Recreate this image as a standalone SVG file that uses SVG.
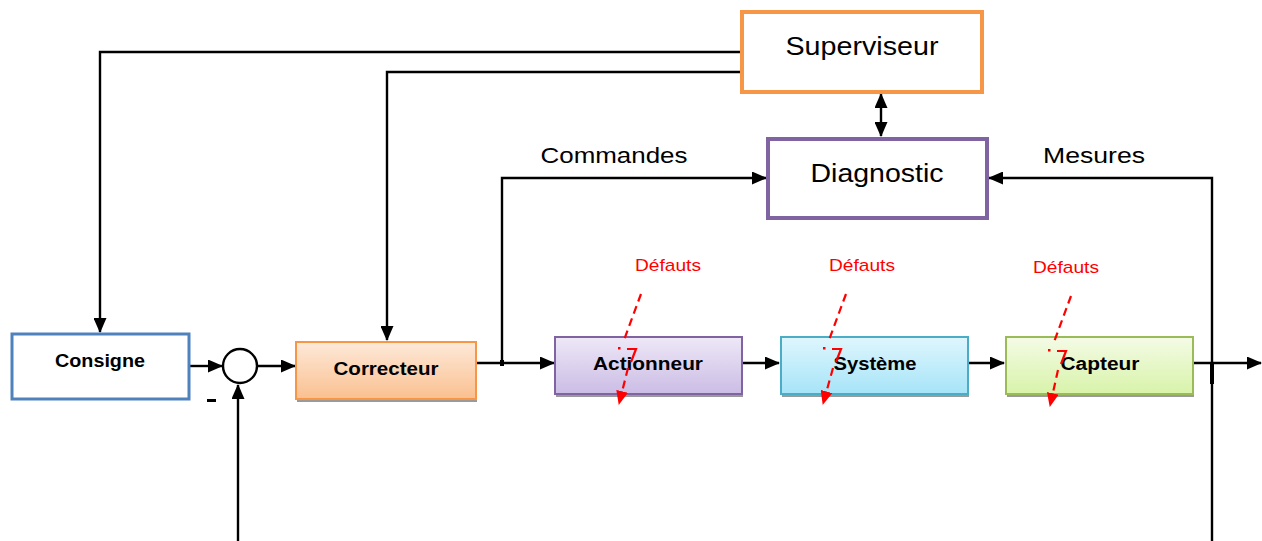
<svg xmlns="http://www.w3.org/2000/svg" width="1262" height="541" viewBox="0 0 1262 541">
  <style>
    .wire { fill: none; stroke: #000; stroke-width: 2.4; }
    .fault { fill: none; stroke: #FF0000; stroke-width: 2.2; stroke-dasharray: 8 5; }
    .seg { fill: none; stroke: #FF0000; stroke-width: 2.2; }
    .big { font-family: "Liberation Sans", Arial, sans-serif; font-size: 25px; fill: #000; }
    .lbl { font-family: "Liberation Sans", Arial, sans-serif; font-size: 22px; fill: #000; }
    .blk { font-family: "Liberation Sans", Arial, sans-serif; font-size: 18px; font-weight: bold; fill: #000; }
    .red { font-family: "Liberation Sans", Arial, sans-serif; font-size: 17px; fill: #FF0000; }
    .shadow { fill: #9a9a9a; }
  </style>
  <defs>
    <marker id="arr" viewBox="0 0 15 13" refX="14" refY="6.5" markerWidth="15" markerHeight="13" markerUnits="userSpaceOnUse" orient="auto-start-reverse">
      <path d="M0,0 L15,6.5 L0,13 Z" fill="#000"/>
    </marker>
    <marker id="arrRed" viewBox="0 0 14 12" refX="13" refY="6" markerWidth="14" markerHeight="12" markerUnits="userSpaceOnUse" orient="auto">
      <path d="M0,0 L14,6 L0,12 Z" fill="#FF0000"/>
    </marker>
    <linearGradient id="gOrange" x1="0" y1="0" x2="0" y2="1">
      <stop offset="0" stop-color="#FDE9D9"/>
      <stop offset="1" stop-color="#FAC090"/>
    </linearGradient>
    <linearGradient id="gPurple" x1="0" y1="0" x2="0" y2="1">
      <stop offset="0" stop-color="#EEE8F7"/>
      <stop offset="1" stop-color="#CBBCE5"/>
    </linearGradient>
    <linearGradient id="gBlue" x1="0" y1="0" x2="0" y2="1">
      <stop offset="0" stop-color="#DFF6FD"/>
      <stop offset="1" stop-color="#A6E4F8"/>
    </linearGradient>
    <linearGradient id="gGreen" x1="0" y1="0" x2="0" y2="1">
      <stop offset="0" stop-color="#F4FBE6"/>
      <stop offset="1" stop-color="#D8F3A9"/>
    </linearGradient>
  </defs>

  <!-- connectors -->
  <g id="connectors">
    <!-- supervisor to setpoint and controller -->
    <polyline class="wire" points="742,52 100,52 100,332" marker-end="url(#arr)"/>
    <polyline class="wire" points="742,72 387,72 387,340" marker-end="url(#arr)"/>
    <!-- supervisor <-> diagnostic -->
    <line class="wire" x1="881" y1="94" x2="881" y2="136" marker-start="url(#arr)" marker-end="url(#arr)"/>
    <!-- commands and measurements -->
    <polyline class="wire" points="502,364 502,178 766,178" marker-end="url(#arr)"/>
    <polyline class="wire" points="1212,541 1212,178 989,178" marker-end="url(#arr)"/>
    <!-- forward path -->
    <line class="wire" x1="190" y1="366" x2="222" y2="366" marker-end="url(#arr)"/>
    <line class="wire" x1="258" y1="366" x2="295" y2="366" marker-end="url(#arr)"/>
    <line class="wire" x1="477" y1="363" x2="554" y2="363" marker-end="url(#arr)"/>
    <line class="wire" x1="743" y1="363" x2="779" y2="363" marker-end="url(#arr)"/>
    <line class="wire" x1="968" y1="363" x2="1004" y2="363" marker-end="url(#arr)"/>
    <line class="wire" x1="1194" y1="363" x2="1261" y2="363" marker-end="url(#arr)"/>
    <line x1="1212" y1="363" x2="1212" y2="384" stroke="#000" stroke-width="4"/>
    <line x1="502" y1="360" x2="502" y2="366" stroke="#000" stroke-width="4"/>
    <!-- feedback -->
    <line class="wire" x1="238" y1="541" x2="238" y2="385" marker-end="url(#arr)"/>
  </g>

  <!-- supervisor -->
  <g id="superviseur">
    <rect x="742" y="12" width="240" height="80" fill="#fff" stroke="#F79646" stroke-width="4"/>
    <text class="big" x="862" y="55" text-anchor="middle" textLength="153" lengthAdjust="spacingAndGlyphs">Superviseur</text>
  </g>

  <!-- diagnosis -->
  <g id="diagnostic">
    <rect x="768" y="139" width="219" height="79" fill="#fff" stroke="#8064A2" stroke-width="4"/>
    <text class="big" x="877" y="182" text-anchor="middle" font-size="27" textLength="133" lengthAdjust="spacingAndGlyphs">Diagnostic</text>
  </g>

  <text class="lbl" x="614" y="163" text-anchor="middle" textLength="147" lengthAdjust="spacingAndGlyphs">Commandes</text>
  <text class="lbl" x="1094" y="163" text-anchor="middle" textLength="102" lengthAdjust="spacingAndGlyphs">Mesures</text>

  <!-- setpoint -->
  <g id="consigne">
    <rect x="12" y="334" width="177" height="65" fill="#fff" stroke="#4F81BD" stroke-width="3"/>
    <text class="blk" x="100" y="367" text-anchor="middle" textLength="90" lengthAdjust="spacingAndGlyphs">Consigne</text>
  </g>

  <!-- summing junction -->
  <g id="comparateur">
    <circle cx="240" cy="366" r="17" fill="#fff" stroke="#000" stroke-width="2.4"/>
    <rect x="207" y="399" width="9" height="3" fill="#000"/>
  </g>

  <!-- controller -->
  <g id="correcteur">
    <rect class="shadow" x="297" y="345" width="180" height="57"/>
    <rect x="296" y="342" width="180" height="57" fill="url(#gOrange)" stroke="#F79646" stroke-width="2"/>
    <text class="blk" x="386" y="375" text-anchor="middle" textLength="105" lengthAdjust="spacingAndGlyphs">Correcteur</text>
  </g>

  <!-- actuator -->
  <g id="actionneur">
    <rect class="shadow" x="556" y="340" width="187" height="57"/>
    <rect x="555" y="337" width="187" height="57" fill="url(#gPurple)" stroke="#8064A2" stroke-width="2"/>
    <text class="blk" x="648" y="370" text-anchor="middle" textLength="110" lengthAdjust="spacingAndGlyphs">Actionneur</text>
  </g>

  <!-- plant -->
  <g id="systeme">
    <rect class="shadow" x="782" y="340" width="187" height="57"/>
    <rect x="781" y="337" width="187" height="57" fill="url(#gBlue)" stroke="#4BACC6" stroke-width="2"/>
    <text class="blk" x="875" y="370" text-anchor="middle" textLength="83" lengthAdjust="spacingAndGlyphs">Système</text>
  </g>

  <!-- sensor -->
  <g id="capteur">
    <rect class="shadow" x="1007" y="340" width="187" height="57"/>
    <rect x="1006" y="337" width="187" height="57" fill="url(#gGreen)" stroke="#9BBB59" stroke-width="2"/>
    <text class="blk" x="1100" y="370" text-anchor="middle" textLength="79" lengthAdjust="spacingAndGlyphs">Capteur</text>
  </g>

  <!-- fault injections -->
  <g id="defauts">
    <text class="red" x="668" y="271" text-anchor="middle" textLength="66" lengthAdjust="spacingAndGlyphs">Défauts</text>
    <text class="red" x="862" y="271" text-anchor="middle" textLength="66" lengthAdjust="spacingAndGlyphs">Défauts</text>
    <text class="red" x="1066" y="273" text-anchor="middle" textLength="66" lengthAdjust="spacingAndGlyphs">Défauts</text>

    <polyline class="fault" points="641,294 624,340"/>
    <rect x="618" y="347" width="2.5" height="2.5" fill="#FF0000"/>
    <polyline class="seg" points="627,349 636,349 631,362"/>
    <line class="fault" x1="628" y1="368" x2="619" y2="404" stroke-dasharray="9 4" marker-end="url(#arrRed)"/>

    <polyline class="fault" points="846,294 829,340"/>
    <rect x="823" y="347" width="2.5" height="2.5" fill="#FF0000"/>
    <polyline class="seg" points="832,349 841,349 836,362"/>
    <line class="fault" x1="833" y1="368" x2="823" y2="404" stroke-dasharray="9 4" marker-end="url(#arrRed)"/>

    <polyline class="fault" points="1071,296 1054,342"/>
    <rect x="1048" y="349" width="2.5" height="2.5" fill="#FF0000"/>
    <polyline class="seg" points="1057,351 1066,351 1061,364"/>
    <line class="fault" x1="1058" y1="370" x2="1050" y2="406" stroke-dasharray="9 4" marker-end="url(#arrRed)"/>
  </g>
</svg>
